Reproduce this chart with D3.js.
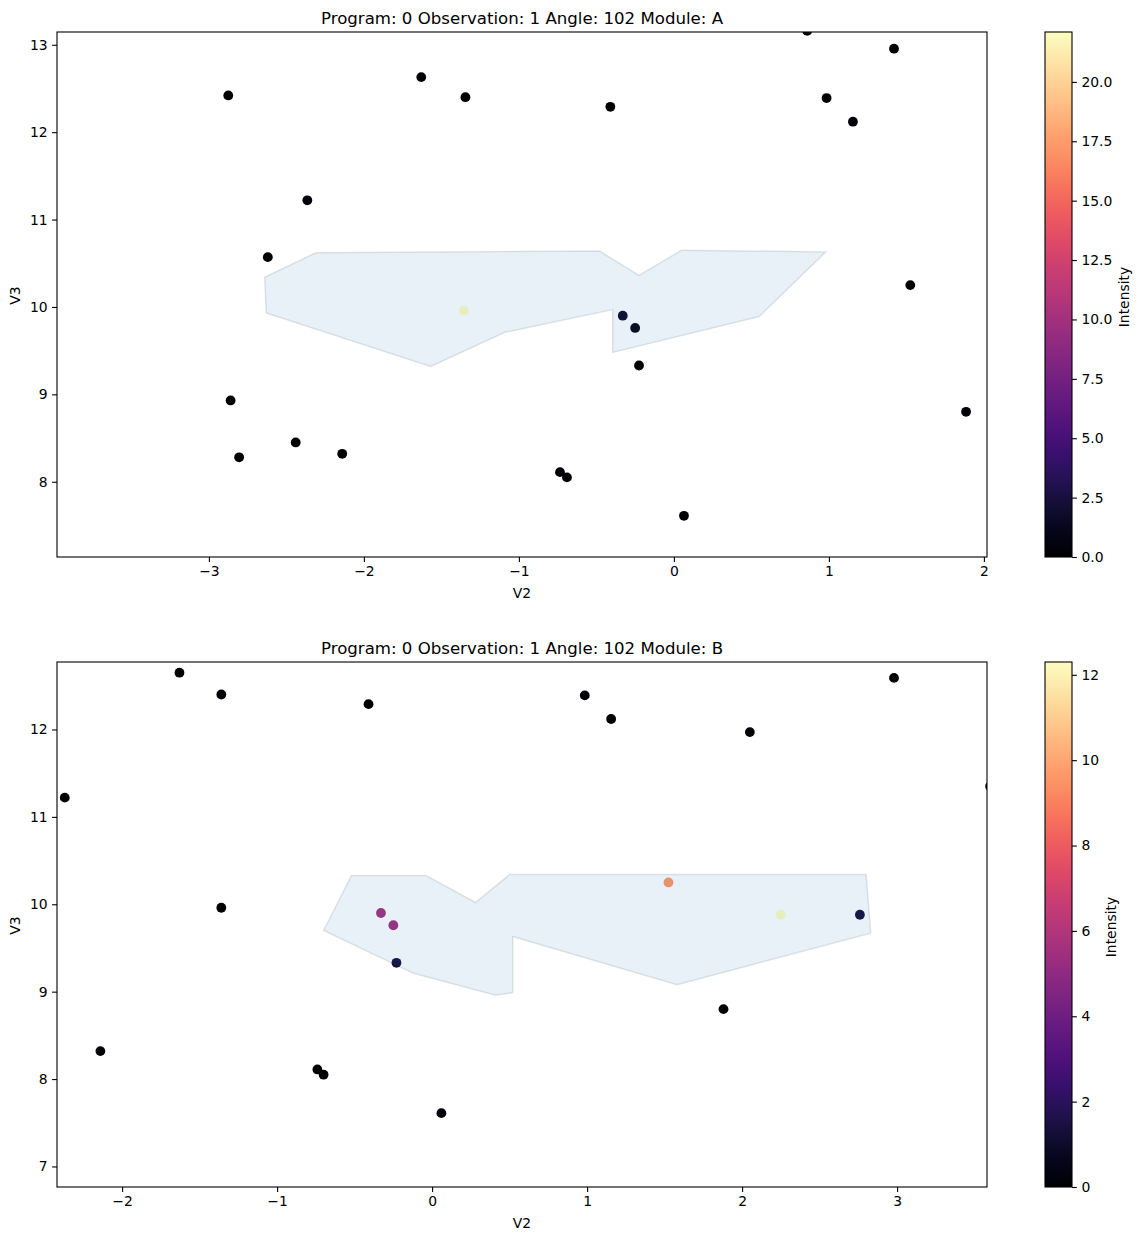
<!DOCTYPE html>
<html><head><meta charset="utf-8"><script src="https://cdn.jsdelivr.net/npm/d3@7"></script>
<style>html,body{margin:0;padding:0;background:#fff}svg{display:block}text{font-family:"DejaVu Sans",sans-serif;fill:#000}</style></head>
<body><svg id="c" width="1141" height="1240"></svg>
<script>
const titleA="Program: 0 Observation: 1 Angle: 102 Module: A";
const titleB="Program: 0 Observation: 1 Angle: 102 Module: B";
const xDomainA=[-3.98,2.02], yDomainA=[7.139,13.146];
const xDomainB=[-2.42,3.58], yDomainB=[6.765,12.772];
const xTicksA=[-3,-2,-1,0,1,2], yTicksA=[8,9,10,11,12,13];
const xTicksB=[-2,-1,0,1,2,3], yTicksB=[7,8,9,10,11,12];
const cbMaxA=22.1, cbMaxB=12.3;
const cbTicksA=[0,2.5,5,7.5,10,12.5,15,17.5,20];
const cbTicksB=[0,2,4,6,8,10,12];
const pointsA=[[0.86,13.16,0],[1.42,12.955,0],[-1.63,12.63,0],[-2.875,12.42,0],[-1.345,12.40,0],[0.985,12.39,0],[-0.41,12.29,0],[1.155,12.12,0],[-2.365,11.22,0],[-2.62,10.57,0],[1.525,10.25,0],[-1.355,9.96,22.1],[-0.33,9.90,1.6],[-0.25,9.76,0.9],[-0.225,9.33,0],[-2.86,8.93,0],[1.885,8.80,0],[-2.44,8.45,0],[-2.14,8.32,0],[-2.805,8.28,0],[-0.735,8.11,0],[-0.69,8.05,0],[0.065,7.61,0]];
const pointsB=[[-1.63,12.65,0],[2.98,12.59,0],[-1.36,12.40,0],[0.985,12.39,0],[-0.41,12.29,0],[1.155,12.12,0],[2.05,11.97,0],[3.60,11.35,0],[-2.37,11.22,0],[1.525,10.25,9.6],[-1.36,9.96,0],[-0.33,9.90,5.6],[2.25,9.88,12.3],[2.76,9.88,1.3],[-0.25,9.76,5.5],[-0.23,9.33,1.3],[1.88,8.80,0],[-2.14,8.32,0],[-0.74,8.11,0],[-0.70,8.05,0],[0.06,7.61,0]];
const regionA=[[-2.64,10.34],[-2.31,10.62],[-0.48,10.64],[-0.225,10.36],[0.05,10.65],[0.98,10.63],[0.55,9.89],[-0.395,9.48],[-0.395,9.97],[-1.09,9.71],[-1.57,9.32],[-2.63,9.93]];
const regionB=[[-0.70,9.70],[-0.52,10.33],[-0.04,10.33],[0.28,10.02],[0.50,10.34],[2.80,10.34],[2.83,9.67],[1.58,9.08],[0.52,9.63],[0.52,8.99],[0.41,8.96],[-0.12,9.21]];

const svg=d3.select("#c");
const left=57,right=987;
function panel(top,bottom,xd,yd,xt,yt,pts,reg,title,cbMax,cbTicks,cbX,cbW,cbLabelX){
  const g=svg.append("g");
  const x=d3.scaleLinear().domain(xd).range([left,right]);
  const y=d3.scaleLinear().domain(yd).range([bottom,top]);
  const color=v=>d3.interpolateMagma(v/cbMax);
  const defs=svg.append("defs");
  const clipId="clip"+top;
  defs.append("clipPath").attr("id",clipId).append("rect").attr("x",left).attr("y",top).attr("width",right-left).attr("height",bottom-top);
  g.append("g").attr("clip-path",`url(#${clipId})`).selectAll("circle").data(pts).join("circle")
    .attr("cx",d=>x(d[0])).attr("cy",d=>y(d[1])).attr("r",4.9).attr("fill",d=>color(d[2]));
  g.append("path").datum(reg).attr("d",d3.line().x(d=>x(d[0])).y(d=>y(d[1])).curve(d3.curveLinearClosed))
    .attr("fill","#1f77b4").attr("fill-opacity",0.1).attr("stroke","#1f2f3b").attr("stroke-opacity",0.12).attr("stroke-width",1.5);
  const ax=g.append("g").attr("transform",`translate(0,${bottom})`).call(d3.axisBottom(x).tickValues(xt).tickSize(4.9).tickPadding(4.5).tickFormat(d=>String(d).replace("-","\u2212")));
  const ay=g.append("g").attr("transform",`translate(${left},0)`).call(d3.axisLeft(y).tickValues(yt).tickSize(4.9).tickPadding(4.5).tickFormat(d3.format("d")));
  [ax,ay].forEach(a=>{a.select(".domain").remove();a.selectAll("text").style("font-size","13.9px").attr("fill","#000");a.selectAll("line").attr("stroke","#000").attr("stroke-width",1.1);});
  g.append("rect").attr("x",left).attr("y",top).attr("width",right-left).attr("height",bottom-top).attr("fill","none").attr("stroke","#000").attr("stroke-width",1.1);
  g.append("text").attr("x",(left+right)/2).attr("y",top-8).attr("text-anchor","middle").style("font-size","16.6px").text(title);
  g.append("text").attr("x",(left+right)/2).attr("y",bottom+41).attr("text-anchor","middle").style("font-size","13.9px").text("V2");
  g.append("text").attr("transform",`translate(20,${(top+bottom)/2+1}) rotate(-90)`).attr("text-anchor","middle").style("font-size","13.9px").text("V3");
  const gid="grad"+top;
  const grad=defs.append("linearGradient").attr("id",gid).attr("x1",0).attr("x2",0).attr("y1",1).attr("y2",0);
  d3.range(0,1.0001,0.05).forEach(t=>grad.append("stop").attr("offset",t).attr("stop-color",d3.interpolateMagma(t)));
  g.append("rect").attr("x",cbX).attr("y",top).attr("width",cbW).attr("height",bottom-top).attr("fill",`url(#${gid})`);
  const cy=d3.scaleLinear().domain([0,cbMax]).range([bottom,top]);
  const cax=g.append("g").attr("transform",`translate(${cbX+cbW},0)`).call(d3.axisRight(cy).tickValues(cbTicks).tickSize(4.9).tickPadding(4.5).tickFormat(d=>cbTicks.length>7?d.toFixed(1):String(d)));
  cax.select(".domain").remove();cax.selectAll("text").style("font-size","13.9px").attr("fill","#000");cax.selectAll("line").attr("stroke","#000").attr("stroke-width",1.1);
  g.append("rect").attr("x",cbX).attr("y",top).attr("width",cbW).attr("height",bottom-top).attr("fill","none").attr("stroke","#000").attr("stroke-width",1.1);
  g.append("text").attr("transform",`translate(${cbLabelX},${(top+bottom)/2+2.5}) rotate(-90)`).attr("text-anchor","middle").style("font-size","13.9px").text("Intensity");
}
panel(32,557,xDomainA,yDomainA,xTicksA,yTicksA,pointsA,regionA,titleA,cbMaxA,cbTicksA,1045,27,1129);
panel(662,1187,xDomainB,yDomainB,xTicksB,yTicksB,pointsB,regionB,titleB,cbMaxB,cbTicksB,1045,27,1116);
</script></body></html>
